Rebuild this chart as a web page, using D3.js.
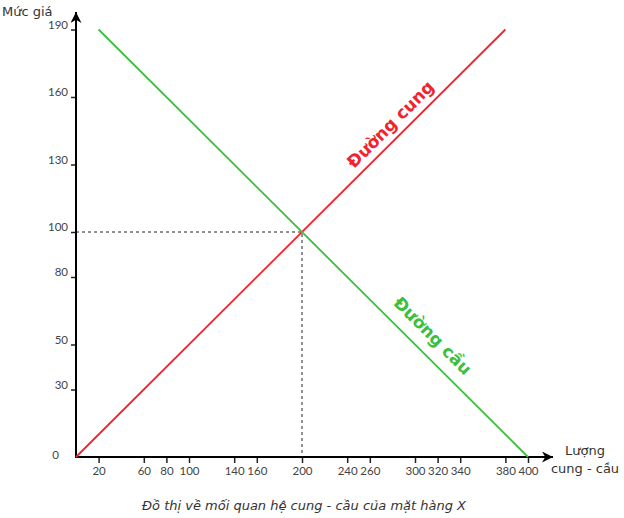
<!DOCTYPE html>
<html>
<head>
<meta charset="utf-8">
<script src="https://cdn.jsdelivr.net/npm/d3@7"></script>
<style>
  body { margin: 0; background: #fff; }
  text { font-family: "DejaVu Sans", sans-serif; }
</style>
</head>
<body>
<div id="content"></div>
<script>
// tick values
var xTicks = [20, 60, 80, 100, 140, 160, 200, 240, 260, 300, 320, 340, 380, 400];
var yTicks = [30, 50, 80, 100, 130, 160, 190];

// supply and demand lines (quantity, price)
var supply = [[0, 0], [380, 190]];
var demand = [[20, 190], [400, 0]];
var equilibrium = [200, 100];

var width = 624, height = 518;
var tickFont = "Lato, 'Noto Sans', sans-serif";

var svg = d3.select("#content")
            .append("svg")
            .attr("width", width)
            .attr("height", height);

var scaleX = d3.scaleLinear().domain([0, 400]).range([76, 528]);
var scaleY = d3.scaleLinear().domain([0, 100]).range([457, 232]);

var line = d3.line()
             .x(function(d) { return scaleX(d[0]); })
             .y(function(d) { return scaleY(d[1]); });

svg.append("defs").append("marker")
   .attr("id", "arrow")
   .attr("viewBox", "0 0 10 10")
   .attr("refX", 10).attr("refY", 5)
   .attr("markerWidth", 12).attr("markerHeight", 11)
   .attr("markerUnits", "userSpaceOnUse")
   .attr("orient", "auto")
   .append("path")
   .attr("d", "M0,0 L10,5 L0,10 L3,5 Z")
   .attr("fill", "#000");

// dashed guides to the equilibrium
svg.append("path")
   .attr("d", line([[0, equilibrium[1]], equilibrium, [equilibrium[0], 0]]))
   .attr("fill", "none")
   .attr("stroke", "#222")
   .attr("stroke-width", 1)
   .attr("stroke-dasharray", "3,3");

// axes
var axisX = d3.axisBottom(scaleX).tickValues(xTicks).tickSize(6).tickPadding(4);
var axisY = d3.axisLeft(scaleY).tickValues(yTicks).tickSize(5).tickPadding(3);

var axisXG = svg.append("g")
                .attr("transform", "translate(0," + scaleY(0) + ")")
                .call(axisX);
var axisYG = svg.append("g")
                .attr("transform", "translate(" + scaleX(0) + ",0)")
                .call(axisY);

axisXG.select(".domain").remove();
axisYG.select(".domain").remove();
axisXG.selectAll(".tick line").attr("stroke", "#222").attr("stroke-width", 1.5);
axisYG.selectAll(".tick line").attr("stroke", "#222").attr("stroke-width", 1.5);
axisXG.selectAll(".tick text").attr("font-size", 11.5).attr("fill", "#444")
      .style("font-family", tickFont);
axisYG.selectAll(".tick text").attr("font-size", 11.5).attr("fill", "#444")
      .style("font-family", tickFont)
      .attr("dy", "-0.1em");

svg.append("text")
   .attr("x", scaleX(0) - 17).attr("y", scaleY(0) + 2)
   .attr("text-anchor", "end")
   .attr("font-size", 11.5).attr("fill", "#444")
   .style("font-family", tickFont)
   .text("0");

svg.append("line")
   .attr("x1", scaleX(0)).attr("y1", scaleY(0) + 1)
   .attr("x2", scaleX(0)).attr("y2", 12)
   .attr("stroke", "#000").attr("stroke-width", 2)
   .attr("marker-end", "url(#arrow)");
svg.append("line")
   .attr("x1", scaleX(0) - 1).attr("y1", scaleY(0))
   .attr("x2", 553).attr("y2", scaleY(0))
   .attr("stroke", "#000").attr("stroke-width", 2)
   .attr("marker-end", "url(#arrow)");

// curves
svg.append("path")
   .attr("d", line(supply))
   .attr("fill", "none")
   .attr("stroke", "#f2232b")
   .attr("stroke-width", 1.8);
svg.append("path")
   .attr("d", line(demand))
   .attr("fill", "none")
   .attr("stroke", "#3cbf3c")
   .attr("stroke-width", 1.8);

// curve labels
svg.append("text")
   .attr("transform", "translate(" + scaleX(282) + "," + scaleY(146) + ") rotate(-45)")
   .attr("text-anchor", "middle")
   .attr("font-size", 17).attr("font-weight", "bold")
   .attr("fill", "#f2232b")
   .text("Đường cung");
svg.append("text")
   .attr("transform", "translate(" + scaleX(312) + "," + scaleY(52) + ") rotate(45)")
   .attr("text-anchor", "middle")
   .attr("font-size", 17).attr("font-weight", "bold")
   .attr("fill", "#3cbf3c")
   .text("Đường cầu");

// axis titles
svg.append("text")
   .attr("x", 2).attr("y", 16)
   .attr("font-size", 13).attr("fill", "#333")
   .text("Mức giá");
svg.append("text")
   .attr("x", 585).attr("y", 455)
   .attr("text-anchor", "middle")
   .attr("font-size", 13).attr("fill", "#333")
   .text("Lượng");
svg.append("text")
   .attr("x", 585).attr("y", 473)
   .attr("text-anchor", "middle")
   .attr("font-size", 13).attr("fill", "#333")
   .text("cung - cầu");

// caption
svg.append("text")
   .attr("x", 304).attr("y", 510)
   .attr("text-anchor", "middle")
   .attr("font-size", 13).attr("font-style", "italic")
   .attr("fill", "#333")
   .text("Đồ thị về mối quan hệ cung - cầu của mặt hàng X");
</script>
</body>
</html>
